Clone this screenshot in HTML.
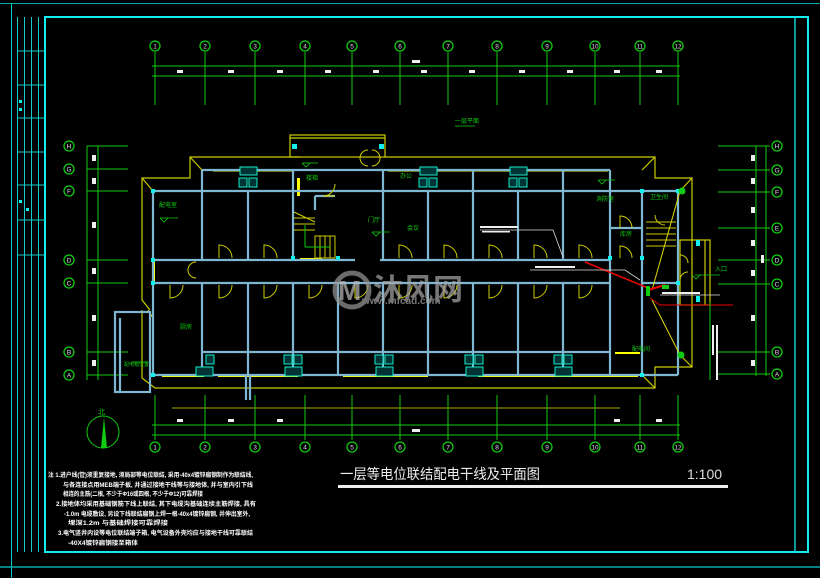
<!DOCTYPE html>
<html><head><meta charset="utf-8"><style>
html,body{margin:0;padding:0;background:#000;}
svg{display:block}
text{font-family:"Liberation Sans","Noto Sans CJK SC",sans-serif}
</style></head><body>
<svg width="820" height="578" viewBox="0 0 820 578" xmlns="http://www.w3.org/2000/svg">
<rect width="820" height="578" fill="#000"/>
<line x1="0" y1="3.5" x2="820" y2="3.5" stroke="#0aa" stroke-width="1"/>
<line x1="11.5" y1="3" x2="11.5" y2="578" stroke="#0cc" stroke-width="1"/>
<rect x="45" y="17" width="763" height="535" fill="none" stroke="#1ee" stroke-width="2"/>
<line x1="0" y1="567" x2="820" y2="567" stroke="#0aa" stroke-width="1.5"/>
<line x1="795" y1="17" x2="795" y2="552" stroke="#1cc" stroke-width="1.5"/>
<g stroke="#1cc" stroke-width="1" fill="none">
<line x1="17.5" y1="17" x2="17.5" y2="552"/><line x1="24.5" y1="17" x2="24.5" y2="552"/><line x1="31.5" y1="17" x2="31.5" y2="552"/><line x1="38.5" y1="17" x2="38.5" y2="552"/>
<line x1="17" y1="51" x2="45" y2="51"/><line x1="17" y1="85" x2="45" y2="85"/><line x1="17" y1="118" x2="45" y2="118"/><line x1="17" y1="152" x2="45" y2="152"/><line x1="17" y1="185" x2="45" y2="185"/><line x1="17" y1="220" x2="45" y2="220"/><line x1="17" y1="255" x2="45" y2="255"/>
</g>
<rect x="19" y="100" width="3" height="3" fill="#1ee"/><rect x="19" y="108" width="3" height="3" fill="#1ee"/>
<rect x="19" y="200" width="3" height="3" fill="#1ee"/><rect x="26" y="208" width="3" height="3" fill="#1ee"/>

<g stroke="#1c1" stroke-width="1" fill="none">
<line x1="152" y1="66" x2="680" y2="66"/><line x1="152" y1="76" x2="680" y2="76"/>
<line x1="152" y1="425" x2="680" y2="425"/><line x1="152" y1="435" x2="680" y2="435"/>
<line x1="87" y1="146" x2="128" y2="146"/><line x1="87" y1="169" x2="128" y2="169"/><line x1="87" y1="191" x2="128" y2="191"/><line x1="87" y1="260" x2="128" y2="260"/><line x1="87" y1="283" x2="128" y2="283"/><line x1="87" y1="352" x2="128" y2="352"/><line x1="87" y1="375" x2="128" y2="375"/>
<line x1="87" y1="146" x2="87" y2="380"/><line x1="98" y1="146" x2="98" y2="380"/>
<line x1="718" y1="146" x2="770" y2="146"/><line x1="718" y1="170" x2="770" y2="170"/><line x1="718" y1="192" x2="770" y2="192"/><line x1="718" y1="228" x2="770" y2="228"/><line x1="718" y1="260" x2="770" y2="260"/><line x1="718" y1="284" x2="770" y2="284"/><line x1="718" y1="352" x2="770" y2="352"/><line x1="718" y1="374" x2="770" y2="374"/>
<line x1="756" y1="146" x2="756" y2="376"/><line x1="766" y1="146" x2="766" y2="376"/>
</g>
<g stroke="#1c1" stroke-width="1" fill="none">
<line x1="155" y1="52" x2="155" y2="105"/><line x1="205" y1="52" x2="205" y2="105"/><line x1="255" y1="52" x2="255" y2="105"/><line x1="305" y1="52" x2="305" y2="105"/><line x1="352" y1="52" x2="352" y2="105"/><line x1="400" y1="52" x2="400" y2="105"/><line x1="448" y1="52" x2="448" y2="105"/><line x1="497" y1="52" x2="497" y2="105"/><line x1="547" y1="52" x2="547" y2="105"/><line x1="595" y1="52" x2="595" y2="105"/><line x1="640" y1="52" x2="640" y2="105"/><line x1="678" y1="52" x2="678" y2="105"/>
<line x1="155" y1="395" x2="155" y2="440"/><line x1="205" y1="395" x2="205" y2="440"/><line x1="255" y1="395" x2="255" y2="440"/><line x1="305" y1="395" x2="305" y2="440"/><line x1="352" y1="395" x2="352" y2="440"/><line x1="400" y1="395" x2="400" y2="440"/><line x1="448" y1="395" x2="448" y2="440"/><line x1="497" y1="395" x2="497" y2="440"/><line x1="547" y1="395" x2="547" y2="440"/><line x1="595" y1="395" x2="595" y2="440"/><line x1="640" y1="395" x2="640" y2="440"/><line x1="678" y1="395" x2="678" y2="440"/>
</g>
<g fill="#000" stroke="#1c1" stroke-width="1.3">
<circle cx="155" cy="46" r="5"/><circle cx="205" cy="46" r="5"/><circle cx="255" cy="46" r="5"/><circle cx="305" cy="46" r="5"/><circle cx="352" cy="46" r="5"/><circle cx="400" cy="46" r="5"/><circle cx="448" cy="46" r="5"/><circle cx="497" cy="46" r="5"/><circle cx="547" cy="46" r="5"/><circle cx="595" cy="46" r="5"/><circle cx="640" cy="46" r="5"/><circle cx="678" cy="46" r="5"/>
<circle cx="155" cy="447" r="5"/><circle cx="205" cy="447" r="5"/><circle cx="255" cy="447" r="5"/><circle cx="305" cy="447" r="5"/><circle cx="352" cy="447" r="5"/><circle cx="400" cy="447" r="5"/><circle cx="448" cy="447" r="5"/><circle cx="497" cy="447" r="5"/><circle cx="547" cy="447" r="5"/><circle cx="595" cy="447" r="5"/><circle cx="640" cy="447" r="5"/><circle cx="678" cy="447" r="5"/>
<circle cx="69" cy="146" r="5"/><circle cx="69" cy="169" r="5"/><circle cx="69" cy="191" r="5"/><circle cx="69" cy="260" r="5"/><circle cx="69" cy="283" r="5"/><circle cx="69" cy="352" r="5"/><circle cx="69" cy="375" r="5"/>
<circle cx="777" cy="146" r="5"/><circle cx="777" cy="170" r="5"/><circle cx="777" cy="192" r="5"/><circle cx="777" cy="228" r="5"/><circle cx="777" cy="260" r="5"/><circle cx="777" cy="284" r="5"/><circle cx="777" cy="352" r="5"/><circle cx="777" cy="374" r="5"/>
</g>
<g fill="#ddd" font-size="6.5" text-anchor="middle">
<text x="155" y="48.5">1</text><text x="205" y="48.5">2</text><text x="255" y="48.5">3</text><text x="305" y="48.5">4</text><text x="352" y="48.5">5</text><text x="400" y="48.5">6</text><text x="448" y="48.5">7</text><text x="497" y="48.5">8</text><text x="547" y="48.5">9</text><text x="595" y="48.5">10</text><text x="640" y="48.5">11</text><text x="678" y="48.5">12</text>
<text x="155" y="449.5">1</text><text x="205" y="449.5">2</text><text x="255" y="449.5">3</text><text x="305" y="449.5">4</text><text x="352" y="449.5">5</text><text x="400" y="449.5">6</text><text x="448" y="449.5">7</text><text x="497" y="449.5">8</text><text x="547" y="449.5">9</text><text x="595" y="449.5">10</text><text x="640" y="449.5">11</text><text x="678" y="449.5">12</text>
<text x="69" y="148.5">H</text><text x="69" y="171.5">G</text><text x="69" y="193.5">F</text><text x="69" y="262.5">D</text><text x="69" y="285.5">C</text><text x="69" y="354.5">B</text><text x="69" y="377.5">A</text>
<text x="777" y="148.5">H</text><text x="777" y="172.5">G</text><text x="777" y="194.5">F</text><text x="777" y="230.5">E</text><text x="777" y="262.5">D</text><text x="777" y="286.5">C</text><text x="777" y="354.5">B</text><text x="777" y="376.5">A</text>
</g>
<g fill="#eee">
<rect x="177" y="70" width="6" height="3"/><rect x="228" y="70" width="6" height="3"/><rect x="277" y="70" width="6" height="3"/><rect x="325" y="70" width="6" height="3"/><rect x="373" y="70" width="6" height="3"/><rect x="421" y="70" width="6" height="3"/><rect x="469" y="70" width="6" height="3"/><rect x="519" y="70" width="6" height="3"/><rect x="567" y="70" width="6" height="3"/><rect x="614" y="70" width="6" height="3"/><rect x="656" y="70" width="6" height="3"/>
<rect x="412" y="60" width="8" height="3"/><rect x="412" y="429" width="8" height="3"/>
<rect x="177" y="419" width="6" height="3"/><rect x="228" y="419" width="6" height="3"/><rect x="277" y="419" width="6" height="3"/><rect x="614" y="419" width="6" height="3"/><rect x="656" y="419" width="6" height="3"/>
<rect x="92" y="155" width="4" height="6"/><rect x="92" y="178" width="4" height="6"/><rect x="92" y="222" width="4" height="6"/><rect x="92" y="268" width="4" height="6"/><rect x="92" y="315" width="4" height="6"/><rect x="92" y="360" width="4" height="6"/>
<rect x="751" y="155" width="4" height="6"/><rect x="751" y="178" width="4" height="6"/><rect x="751" y="207" width="4" height="6"/><rect x="751" y="240" width="4" height="6"/><rect x="751" y="270" width="4" height="6"/><rect x="751" y="315" width="4" height="6"/><rect x="751" y="360" width="4" height="6"/><rect x="761" y="255" width="3" height="8"/>
</g>

<g stroke="#cc0" stroke-width="1.2" fill="none">
<polyline points="150,310 142,300 142,178 190,178 190,157 300,157"/>
<polyline points="385,157 628,157 655,157 655,178 692,178 692,367 655,367 655,388 155,388 142,378 142,310"/>
<rect x="290" y="135" width="95" height="22"/>
<line x1="290" y1="138" x2="385" y2="138"/>
<line x1="142" y1="178" x2="153" y2="191"/><line x1="190" y1="157" x2="202" y2="170"/><line x1="655" y1="157" x2="642" y2="170"/><line x1="692" y1="178" x2="680" y2="191"/><line x1="692" y1="367" x2="680" y2="355"/><line x1="655" y1="388" x2="642" y2="375"/><line x1="148" y1="310" x2="153" y2="318"/>
<rect x="680" y="240" width="30" height="65"/><line x1="705" y1="240" x2="705" y2="305"/>
<line x1="172" y1="408" x2="620" y2="408" stroke="#880"/>
</g>
<g fill="#ff0">
<rect x="213" y="169" width="80" height="2.5"/><rect x="388" y="169" width="220" height="2.5"/>
<rect x="167" y="190" width="22" height="2"/><rect x="217" y="190" width="14" height="2"/><rect x="262" y="190" width="14" height="2"/><rect x="395" y="190" width="14" height="2"/><rect x="442" y="190" width="14" height="2"/><rect x="487" y="190" width="14" height="2"/><rect x="532" y="190" width="14" height="2"/>
<rect x="162" y="374" width="42" height="3"/><rect x="218" y="374" width="80" height="3"/><rect x="343" y="374" width="85" height="3"/><rect x="478" y="374" width="160" height="3"/>
<rect x="152" y="262" width="3" height="20"/><rect x="297" y="178" width="3" height="18"/>
<rect x="615" y="190" width="25" height="2"/><rect x="615" y="352" width="25" height="2"/>
<rect x="300" y="258" width="22" height="2"/>
</g>

<g stroke="#7fb7d2" stroke-width="2.2" fill="none">
<line x1="202" y1="170" x2="610" y2="170"/>
<line x1="153" y1="191" x2="642" y2="191"/>
<line x1="153" y1="191" x2="153" y2="375"/>
<line x1="153" y1="375" x2="610" y2="375"/>
<line x1="610" y1="191" x2="610" y2="375"/>
<line x1="642" y1="191" x2="642" y2="375"/>
<line x1="610" y1="375" x2="642" y2="375"/>
<line x1="153" y1="260" x2="355" y2="260"/><line x1="380" y1="260" x2="610" y2="260"/>
<line x1="153" y1="283" x2="610" y2="283"/>
<line x1="202" y1="352" x2="610" y2="352"/>
<line x1="202" y1="170" x2="202" y2="260"/><line x1="248" y1="191" x2="248" y2="260"/><line x1="293" y1="170" x2="293" y2="260"/><line x1="383" y1="170" x2="383" y2="260"/><line x1="428" y1="191" x2="428" y2="260"/><line x1="473" y1="170" x2="473" y2="260"/><line x1="518" y1="191" x2="518" y2="260"/><line x1="563" y1="170" x2="563" y2="260"/><line x1="610" y1="170" x2="610" y2="191"/>
<line x1="202" y1="283" x2="202" y2="375"/><line x1="248" y1="283" x2="248" y2="375"/><line x1="293" y1="283" x2="293" y2="375"/><line x1="338" y1="283" x2="338" y2="375"/><line x1="383" y1="283" x2="383" y2="375"/><line x1="428" y1="283" x2="428" y2="375"/><line x1="473" y1="283" x2="473" y2="375"/><line x1="518" y1="283" x2="518" y2="375"/><line x1="563" y1="283" x2="563" y2="375"/>
<line x1="610" y1="228" x2="642" y2="228"/>
<line x1="642" y1="283" x2="680" y2="283"/><line x1="678" y1="191" x2="678" y2="375"/><line x1="642" y1="191" x2="678" y2="191"/><line x1="642" y1="375" x2="678" y2="375"/>
<line x1="315" y1="196" x2="335" y2="196"/><line x1="315" y1="196" x2="315" y2="210"/>
<rect x="115" y="312" width="35" height="80"/>
<line x1="120" y1="318" x2="120" y2="392"/>
<line x1="246" y1="375" x2="246" y2="400"/><line x1="250" y1="375" x2="250" y2="400"/>
</g>
<g fill="#1ee">
<rect x="151" y="189" width="4" height="4"/><rect x="151" y="258" width="4" height="4"/><rect x="151" y="281" width="4" height="4"/><rect x="151" y="373" width="4" height="4"/>
<rect x="291" y="256" width="4" height="4"/><rect x="336" y="256" width="4" height="4"/><rect x="640" y="189" width="4" height="4"/><rect x="608" y="256" width="4" height="4"/><rect x="640" y="256" width="4" height="4"/>
<rect x="640" y="373" width="4" height="4"/><rect x="676" y="189" width="4" height="4"/><rect x="676" y="281" width="4" height="4"/>
<rect x="292" y="144" width="5" height="5"/><rect x="379" y="144" width="5" height="5"/>
<rect x="696" y="240" width="4" height="6"/><rect x="696" y="296" width="4" height="6"/>
</g>
<g stroke="#1ec" stroke-width="1" fill="#033">
<rect x="240" y="167" width="17" height="8"/><rect x="239" y="178" width="8" height="9"/><rect x="249" y="178" width="8" height="9"/>
<rect x="420" y="167" width="17" height="8"/><rect x="419" y="178" width="8" height="9"/><rect x="429" y="178" width="8" height="9"/>
<rect x="510" y="167" width="17" height="8"/><rect x="509" y="178" width="8" height="9"/><rect x="519" y="178" width="8" height="9"/>
<rect x="196" y="367" width="17" height="9"/><rect x="206" y="355" width="8" height="9"/>
<rect x="285" y="367" width="17" height="9"/><rect x="284" y="355" width="8" height="9"/><rect x="294" y="355" width="8" height="9"/>
<rect x="376" y="367" width="17" height="9"/><rect x="375" y="355" width="8" height="9"/><rect x="385" y="355" width="8" height="9"/>
<rect x="466" y="367" width="17" height="9"/><rect x="465" y="355" width="8" height="9"/><rect x="475" y="355" width="8" height="9"/>
<rect x="555" y="367" width="17" height="9"/><rect x="554" y="355" width="8" height="9"/><rect x="564" y="355" width="8" height="9"/>
</g>
<g stroke="#cc0" stroke-width="1" fill="none">
<path d="M219,258 v-13 a13,13 0 0 1 13,13"/><path d="M264,258 v-13 a13,13 0 0 1 13,13"/><path d="M399,258 v-13 a13,13 0 0 1 13,13"/><path d="M444,258 v-13 a13,13 0 0 1 13,13"/><path d="M489,258 v-13 a13,13 0 0 1 13,13"/><path d="M534,258 v-13 a13,13 0 0 1 13,13"/><path d="M579,258 v-13 a13,13 0 0 1 13,13"/>
<path d="M170,285 v13 a13,13 0 0 0 13,-13"/><path d="M219,285 v13 a13,13 0 0 0 13,-13"/><path d="M264,285 v13 a13,13 0 0 0 13,-13"/><path d="M309,285 v13 a13,13 0 0 0 13,-13"/><path d="M355,285 v13 a13,13 0 0 0 13,-13"/><path d="M399,285 v13 a13,13 0 0 0 13,-13"/><path d="M444,285 v13 a13,13 0 0 0 13,-13"/><path d="M489,285 v13 a13,13 0 0 0 13,-13"/><path d="M534,285 v13 a13,13 0 0 0 13,-13"/><path d="M579,285 v13 a13,13 0 0 0 13,-13"/>
<path d="M620,228 v-12 a12,12 0 0 1 12,12"/><path d="M620,258 v-12 a12,12 0 0 1 12,12"/>
<path d="M335,196 h-12 a12,12 0 0 0 12,-12"/>
<path d="M368,150 a8,8 0 0 0 0,16 M372,150 a8,8 0 0 1 0,16"/>
<path d="M196,262 a8,8 0 0 0 -8,8 a8,8 0 0 0 8,8"/>
<path d="M680,255 a8,8 0 0 1 8,8"/><path d="M680,280 a8,8 0 0 1 8,-8"/>
<path d="M655,215 a10,10 0 0 0 10,10"/>
</g>
<g stroke="#cc0" stroke-width="1" fill="none">
<line x1="294" y1="212" x2="315" y2="222"/><line x1="294" y1="218" x2="315" y2="218"/><line x1="294" y1="224" x2="315" y2="224"/><line x1="294" y1="230" x2="315" y2="230"/>
<rect x="315" y="236" width="20" height="22"/><line x1="320" y1="236" x2="320" y2="258"/><line x1="325" y1="236" x2="325" y2="258"/><line x1="330" y1="236" x2="330" y2="258"/>
<line x1="646" y1="222" x2="676" y2="222"/><line x1="646" y1="228" x2="676" y2="228"/><line x1="646" y1="234" x2="676" y2="234"/><line x1="646" y1="240" x2="676" y2="240"/><line x1="646" y1="246" x2="676" y2="246"/>
</g>
<line x1="305" y1="225" x2="305" y2="247" stroke="#0c0"/><line x1="305" y1="247" x2="330" y2="247" stroke="#0c0"/>

<g fill="none">
<line x1="680" y1="191" x2="652" y2="290" stroke="#dd0" stroke-width="1"/>
<line x1="680" y1="355" x2="652" y2="300" stroke="#dd0" stroke-width="1"/>
<line x1="585" y1="262" x2="648" y2="288" stroke="#e00" stroke-width="1.5"/>
<line x1="648" y1="290" x2="665" y2="285" stroke="#e00" stroke-width="2"/>
<line x1="650" y1="298" x2="660" y2="305" stroke="#e00" stroke-width="1"/><line x1="660" y1="305" x2="733" y2="305" stroke="#e00" stroke-width="1"/>
<polyline points="480,230 553,230 563,257" stroke="#ddd" stroke-width="0.8"/>
<polyline points="530,270 625,270 640,280" stroke="#ddd" stroke-width="0.8"/>
<line x1="660" y1="295" x2="720" y2="295" stroke="#ddd" stroke-width="0.8"/>
<line x1="710" y1="302" x2="710" y2="380" stroke="#1c1" stroke-width="1"/>
</g>
<rect x="646" y="286" width="4" height="10" fill="#1c1"/><rect x="662" y="285" width="7" height="4" fill="#1c1"/>
<circle cx="682" cy="191" r="3.5" fill="#1c1"/><circle cx="681" cy="355" r="3.5" fill="#1c1"/>
<g fill="#eee">
<rect x="480" y="226" width="38" height="2"/><rect x="482" y="231" width="28" height="1.5"/><rect x="535" y="266" width="40" height="2"/><rect x="662" y="292" width="38" height="2"/>
<rect x="716" y="325" width="2" height="55"/><rect x="712" y="325" width="2" height="30"/>
</g>
<g fill="#1c1" font-size="6">
<text x="159" y="207">配电室</text><text x="180" y="329">厨房</text><text x="306" y="180">楼梯</text><text x="368" y="222">门厅</text><text x="407" y="230">会议</text><text x="400" y="178">办公</text><text x="596" y="201">消防室</text><text x="620" y="236">库房</text><text x="650" y="199">卫生间</text><text x="632" y="351">配电间</text><text x="715" y="271">入口</text>
<text x="455" y="123">一层平面</text>
</g>
<g stroke="#1c1" fill="none" stroke-width="0.8">
<line x1="160" y1="218" x2="178" y2="218"/><path d="M160,218 l4,4 l4,-4"/><line x1="302" y1="163" x2="318" y2="163"/><path d="M302,163 l4,4 l4,-4"/><line x1="372" y1="232" x2="390" y2="232"/><path d="M372,232 l4,4 l4,-4"/><line x1="598" y1="180" x2="615" y2="180"/><path d="M598,180 l4,4 l4,-4"/><line x1="455" y1="126" x2="475" y2="126"/>
<line x1="695" y1="275" x2="720" y2="275"/><path d="M692,275 l4,4 l4,-4"/>
<line x1="132" y1="362" x2="148" y2="362"/>
</g>
<text x="124" y="366" fill="#1c1" font-size="5">配电箱位置</text>

<g opacity="0.7">
<circle cx="352" cy="290" r="17" fill="none" stroke="#999" stroke-width="5"/>
<text x="338" y="300" fill="#bbb" font-size="28" font-weight="bold">M</text>
<text x="373" y="300" fill="#aaa" font-size="30" font-weight="bold" font-family="Noto Sans CJK SC,sans-serif">沐风网</text>
<text x="362" y="304" fill="#aaa" font-size="10" font-weight="bold">www.mfcad.com</text>
</g>

<circle cx="103" cy="432" r="16" fill="none" stroke="#1c1" stroke-width="1"/>
<polygon points="104,417 107,448 101,448" fill="#1c1"/>
<text x="98" y="414" fill="#1c1" font-size="7">北</text>

<text x="340" y="479" fill="#eee" font-size="14" textLength="200" lengthAdjust="spacingAndGlyphs">一层等电位联结配电干线及平面图</text>
<rect x="338" y="485" width="390" height="3" fill="#eee"/>
<text x="687" y="479" fill="#ddd" font-size="14">1:100</text>
<g fill="#fff" font-size="6" font-weight="bold">
<text x="48" y="477" textLength="205" lengthAdjust="spacingAndGlyphs">注 1.进户线(管)须重复接地, 须局部等电位联结, 采用-40x4镀锌扁钢制作为联结线,</text>
<text x="63" y="487" textLength="190" lengthAdjust="spacingAndGlyphs">与各连接点用MEB端子板, 并通过接地干线等与接地体, 并与室内引下线</text>
<text x="63" y="496" textLength="140" lengthAdjust="spacingAndGlyphs">相连的主筋(二根, 不少于Φ16或四根, 不少于Φ12)可靠焊接</text>
<text x="56" y="506" textLength="200" lengthAdjust="spacingAndGlyphs">2.接地体均采用基础钢筋下线上联结, 其下电缆沟基础连续主筋焊接, 具有</text>
<text x="64" y="516" textLength="186" lengthAdjust="spacingAndGlyphs">-1.0m 电缆敷设, 另设下线联结扁钢上焊一根-40x4镀锌扁钢, 并伸出室外,</text>
<text x="68" y="525" textLength="100" lengthAdjust="spacingAndGlyphs">埋深1.2m 与基础焊接可靠焊接</text>
<text x="58" y="535" textLength="195" lengthAdjust="spacingAndGlyphs">3.电气竖井内设等电位联结端子箱, 电气设备外壳均应与接地干线可靠联结</text>
<text x="68" y="545" textLength="70" lengthAdjust="spacingAndGlyphs">-40X4镀锌扁钢接至箱体</text>
</g>
</svg>
</body></html>
